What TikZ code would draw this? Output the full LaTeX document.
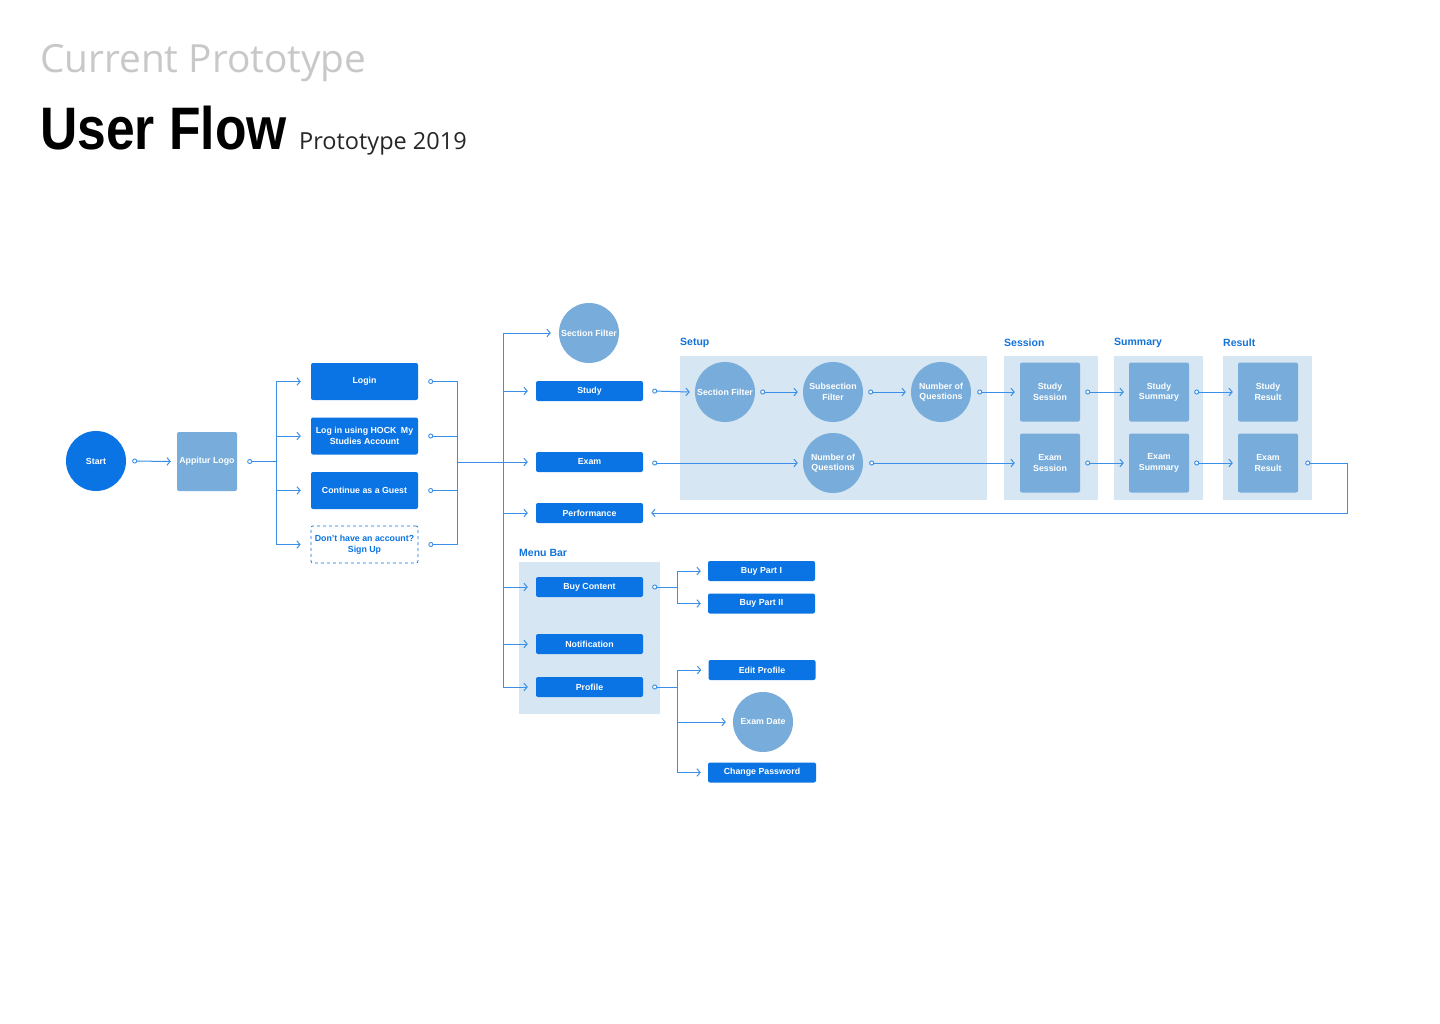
\documentclass[tikz,border=0pt]{standalone}
\usepackage{fontspec}
\setmainfont{Liberation Sans}
\newfontfamily\opensans{Open Sans}
\newfontfamily\heavy{Liberation Sans}
\usetikzlibrary{arrows.meta}
\definecolor{bblue}{HTML}{0A74E4}
\definecolor{lblue}{HTML}{78ACDA}
\definecolor{panelc}{HTML}{D6E6F2}
\definecolor{linec}{HTML}{3C8FE6}
\definecolor{labc}{HTML}{1473D9}
\definecolor{greyt}{HTML}{C8C8C8}
\tikzset{
  nfont/.style={font=\bfseries\fontsize{8.8}{10.5}\selectfont},
  btn/.style={nfont, fill=bblue, rounded corners=2pt, minimum width=107pt, minimum height=20pt, text=white, align=center, inner sep=0pt},
  bigbtn/.style={btn, minimum height=37pt},
  dashbtn/.style={nfont, draw=bblue, dashed, line width=0.7pt, rounded corners=2pt, minimum width=107pt, minimum height=37pt, text=bblue, align=center, inner sep=0pt},
  circnode/.style={nfont, circle, fill=lblue, minimum size=60pt, text=white, align=center, inner sep=0pt},
  startnode/.style={nfont, circle, fill=bblue, minimum size=60pt, text=white, inner sep=0pt},
  sqnode/.style={nfont, fill=lblue, rounded corners=2pt, minimum width=60pt, minimum height=59pt, text=white, align=center, inner sep=0pt},
  panelbox/.style={fill=panelc, draw=none},
  grouplabel/.style={font=\bfseries\fontsize{10.5}{12}\selectfont, text=labc, anchor=west, inner sep=0pt},
  wire/.style={draw=linec, line width=1pt},
  flow/.style={wire, {Circle[open,fill=white,length=5pt,width=5pt,line width=0.9pt]}-{Straight Barb[length=3.2pt,width=7.5pt,line width=1pt]}},
  flowc/.style={wire, {Circle[open,fill=white,length=5pt,width=5pt,line width=0.9pt]}-},
  flowa/.style={wire, -{Straight Barb[length=3.2pt,width=7.5pt,line width=1pt]}},
}
\begin{document}
\begin{tikzpicture}[x=1pt,y=-1pt]
\useasboundingbox[fill=white] (0,0) rectangle (1440,1024);

% titles
\node[anchor=base west, inner sep=0pt, text=greyt, font=\opensans\fontsize{38.8}{40}\selectfont] (t1) at (40,73) {Current Prototype};
\node[anchor=base west, inner sep=0pt, font=\heavy\bfseries\fontsize{60}{62}\selectfont] (t2) at (40,150) {\scalebox{0.86}[1]{User Flow}};
\node[anchor=base west, inner sep=0pt, text=black!85, font=\opensans\fontsize{23.5}{25}\selectfont] (t3) at (299,150) {Prototype 2019};

% panels
\fill[panelbox] (680,356) rectangle (987,500);
\fill[panelbox] (1004,356) rectangle (1098,500);
\fill[panelbox] (1114,356) rectangle (1203,500);
\fill[panelbox] (1223,356) rectangle (1312,500);
\fill[panelbox] (519,562) rectangle (660,714);
\node[grouplabel] (lsetup) at (680,343) {Setup};
\node[grouplabel] (lsession) at (1004,343) {Session};
\node[grouplabel] (lsummary) at (1114,343) {Summary};
\node[grouplabel] (lresult) at (1223,343) {Result};
\node[grouplabel] (lmenu) at (519,553) {Menu Bar};

% nodes
\node[startnode] (start) at (96,461) {Start};
\node[sqnode] (logo) at (207,461.5) {Appitur Logo};
\node[bigbtn] (login) at (364.5,381.5) {Login};
\node[bigbtn] (hock) at (364.5,436) {Log in using HOCK\enspace My\\Studies Account};
\node[bigbtn] (guest) at (364.5,490.5) {Continue as a Guest};
\node[dashbtn] (signup) at (364.5,544.5) {Don't have an account?\\Sign Up};

\node[circnode] (sf0) at (589,333) {Section Filter};
\node[btn] (study) at (589.5,391) {Study};
\node[btn] (exam) at (589.5,462) {Exam};
\node[btn] (perf) at (589.5,513) {Performance};
\node[btn] (buy) at (589.5,587) {Buy Content};
\node[btn] (notif) at (589.5,644) {Notification};
\node[btn] (profile) at (589.5,687) {Profile};

\node[btn] (bp1) at (761.5,571) {Buy Part I};
\node[btn] (bp2) at (761.5,603.5) {Buy Part II};
\node[btn] (edit) at (762,670) {Edit Profile};
\node[circnode] (edate) at (763,722) {Exam Date};
\node[btn, minimum width=108pt] (chpw) at (762,772.5) {Change Password};

\node[circnode] (sf1) at (725,392) {Section Filter};
\node[circnode] (ssf) at (833,392) {Subsection\\Filter};
\node[circnode] (nq1) at (941,392) {Number of\\Questions};
\node[circnode] (nq2) at (833,463) {Number of\\Questions};

\node[sqnode] (ss) at (1050,392) {Study\\Session};
\node[sqnode] (es) at (1050,463) {Exam\\Session};
\node[sqnode] (sm1) at (1159,392) {Study\\Summary};
\node[sqnode] (sm2) at (1159,463) {Exam\\Summary};
\node[sqnode] (rs1) at (1268,392) {Study\\Result};
\node[sqnode] (rs2) at (1268,463) {Exam\\Result};

% coordinates for buses
\coordinate (b1) at (276,461.5);
\coordinate (b2) at (457,462);
\coordinate (b3) at (503,462);
\coordinate (b4) at (677,587);
\coordinate (b5) at (677,687);
\coordinate (rc) at (1347,513);

% connectors
\draw[flow] ([xshift=6pt]start.east) -- ([xshift=-6pt]logo.west);
\draw[flowc] ([xshift=10pt]logo.east) -- (b1);
\foreach \n in {login,hock,guest,signup}{
  \draw[flowa] (b1) |- ([xshift=-10pt]\n.west);
  \draw[flowc] ([xshift=10pt]\n.east) -| (b2);
}
\draw[flowa] (b2) -- ([xshift=-8pt]exam.west);
\draw[flowa] (b3) |- ([xshift=-8pt]sf0.west);
\foreach \n in {study,perf,buy,notif,profile}{
  \draw[flowa] (b3) |- ([xshift=-8pt]\n.west);
}
\draw[flow] ([xshift=9pt]study.east) -- ([xshift=-5pt]sf1.west);
\draw[flow] ([xshift=5pt]sf1.east) -- ([xshift=-5pt]ssf.west);
\draw[flow] ([xshift=5pt]ssf.east) -- ([xshift=-5pt]nq1.west);
\draw[flow] ([xshift=6pt]nq1.east) -- ([xshift=-5pt]ss.west);
\draw[flow] ([xshift=9pt]exam.east |- nq2.west) -- ([xshift=-5pt]nq2.west);
\draw[flow] ([xshift=6pt]nq2.east) -- ([xshift=-5pt]es.west);
\draw[flow] ([xshift=5pt]ss.east) -- ([xshift=-5pt]sm1.west);
\draw[flow] ([xshift=5pt]sm1.east) -- ([xshift=-5pt]rs1.west);
\draw[flow] ([xshift=5pt]es.east) -- ([xshift=-5pt]sm2.west);
\draw[flow] ([xshift=5pt]sm2.east) -- ([xshift=-5pt]rs2.west);
\draw[flow] ([xshift=7pt]rs2.east) -| (rc) -- ([xshift=8pt]perf.east);

\draw[flowc] ([xshift=9pt]buy.east) -- (b4);
\draw[flowa] (b4) |- ([xshift=-7pt]bp1.west);
\draw[flowa] (b4) |- ([xshift=-7pt]bp2.west);
\draw[flowc] ([xshift=9pt]profile.east) -- (b5);
\draw[flowa] (b5) |- ([xshift=-7pt]edit.west);
\draw[flowa] (b5) |- ([xshift=-7pt]edate.west);
\draw[flowa] (b5) |- ([xshift=-7pt]chpw.west);
\end{tikzpicture}
\end{document}
